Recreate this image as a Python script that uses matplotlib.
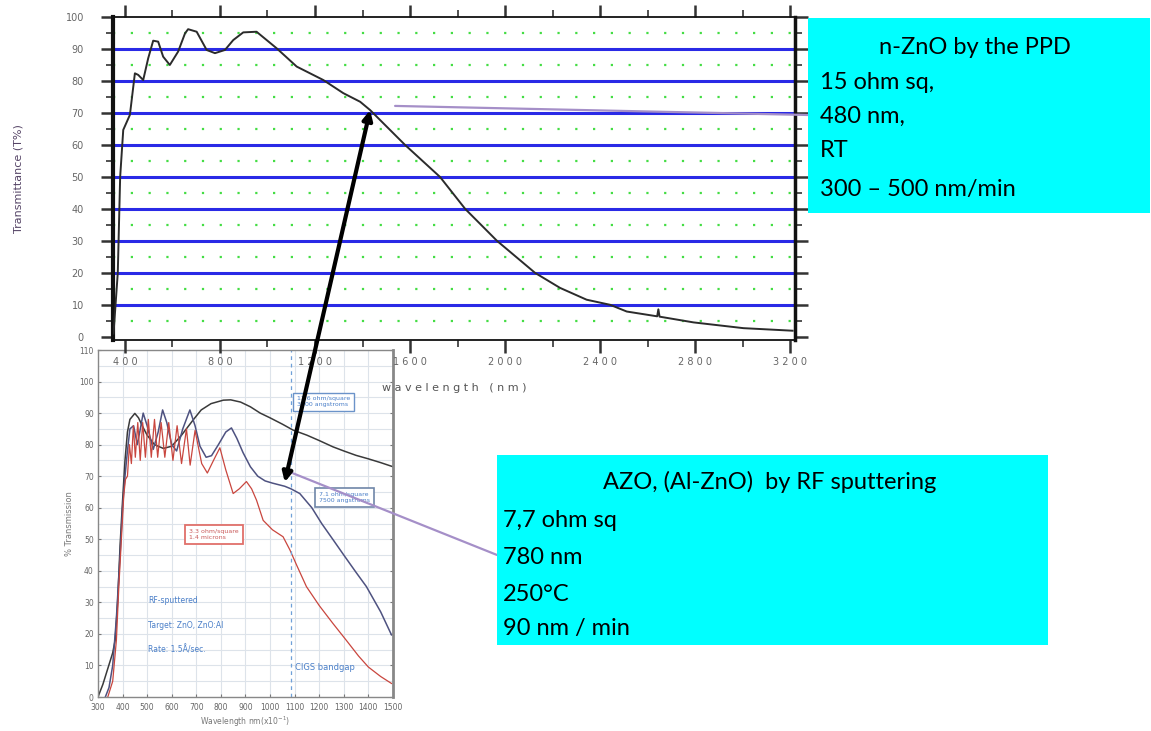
import numpy as np
import matplotlib
matplotlib.use('Agg')
import matplotlib.pyplot as plt
from matplotlib.patches import Rectangle, ConnectionPatch

# top chart: n-ZnO by PPD, transmittance vs wavelength
top_nm = [352, 370, 380, 393, 421, 442, 456, 477, 498, 519, 540, 561, 589, 624, 653, 666,
          702, 744, 779, 821, 856, 898, 954, 1039, 1123, 1235, 1319, 1390, 1432, 1579,
          1726, 1832, 1966, 2126, 2231, 2343, 2442, 2512, 2640, 2645, 2650, 2793, 3003, 3210]
top_T = [1, 20, 50, 64.7, 69.4, 82.4, 81.9, 80.3, 87.1, 92.6, 92.3, 87.6, 85, 89.2, 94.9, 96.2,
         95.4, 89.7, 88.7, 89.7, 92.8, 95.2, 95.4, 90.2, 84.5, 80.3, 76.2, 73.5, 70.9, 60,
         50, 40, 30, 20, 15.3, 11.6, 10, 7.9, 6.4, 8.6, 6.3, 4.5, 2.7, 1.9]
top_xticks = [400, 800, 1200, 1600, 2000, 2400, 2800, 3200]
top_yticks = [0, 10, 20, 30, 40, 50, 60, 70, 80, 90, 100]

# inset: RF sputtered AZO films
blk_nm = [300, 320, 340, 360, 370, 380, 390, 400, 410, 420, 430, 450, 465, 480, 500, 530, 566,
          600, 640, 687, 720, 760, 810, 840, 880, 920, 960, 1000, 1050, 1094, 1150, 1200, 1256,
          1300, 1350, 1400, 1450, 1500]
blk_T = [0, 4, 9, 14, 18, 30, 48, 62, 75, 84, 88, 89.9, 88.5, 86, 83, 80, 78.8, 79.5, 83, 87.8,
         91, 93, 94.1, 94.2, 93.5, 92, 90, 88.5, 86.5, 84.6, 83, 81.3, 79.3, 78, 76.6, 75.5, 74.3, 73]
nav_nm = [330, 345, 360, 375, 390, 400, 410, 420, 430, 445, 460, 470, 484, 500, 525, 545, 563,
          580, 600, 620, 645, 674, 695, 715, 740, 762, 790, 820, 843, 865, 890, 920, 950, 980,
          1010, 1040, 1060, 1085, 1121, 1170, 1210, 1257, 1300, 1350, 1392, 1450, 1494]
nav_T = [0, 3, 10, 25, 45, 60, 70, 78, 85, 86, 80, 84, 90, 86, 78.5, 84, 91, 87, 80, 78, 85, 91,
         86, 79.5, 76, 76.5, 80, 84, 85.3, 82, 77.5, 73, 70, 68.5, 67.8, 67.2, 66.8, 66, 64.5,
         60, 55, 49.8, 45, 39.5, 35, 27, 19.7]
red_nm = [340, 360, 375, 385, 396, 405, 412, 420, 428, 436, 444, 452, 462, 472, 482, 493, 505,
          517, 530, 543, 557, 572, 588, 605, 622, 640, 660, 675, 695, 722, 745, 770, 796, 820,
          850, 875, 904, 925, 945, 972, 1010, 1053, 1081, 1110, 1148, 1200, 1256, 1310, 1360,
          1400, 1450, 1494]
red_T = [0, 5, 18, 35, 51, 64, 69, 70, 80, 74, 86, 76, 87, 75, 87, 76, 88, 76, 88, 76, 87, 76,
         87, 75, 86, 74, 85, 73.5, 84.5, 74, 71, 75, 79, 72, 64.5, 66, 68.3, 66, 62.4, 56, 53,
         50.8, 46.6, 41.5, 35, 29, 23.3, 18, 13, 9.5, 6.5, 4.3]
ins_xticks = list(range(300, 1600, 100))
ins_yticks = list(range(0, 120, 10))

box1_lines = ['15 ohm sq,', '480 nm,', 'RT', '300 \u2013 500 nm/min']
box2_lines = ['7,7 ohm sq', '780 nm', '250\u00b0C', '90 nm / min']

fig = plt.figure(figsize=(11.51, 7.31), dpi=100)
fig.patch.set_facecolor('white')

# ---- inset (drawn underneath) ----
ai = fig.add_axes([0.0851, 0.0465, 0.2563, 0.4747], zorder=1)
ai.set_xlim(300, 1500)
ai.set_ylim(0, 110)
ai.set_xticks(ins_xticks)
ai.set_yticks(ins_yticks)
ai.set_yticks(np.arange(5, 110, 10), minor=True)
ai.grid(True, which='both', color='#dde3ea', lw=0.8)
ai.set_axisbelow(True)
ai.tick_params(labelsize=5.5, labelcolor='#666666', length=2, direction='in', right=True,
               color='#777777', pad=2)
ai.tick_params(axis='x', pad=4)
ai.tick_params(axis='y', pad=3)
ai.tick_params(which='minor', length=0)
for s in ai.spines.values():
    s.set_color('#888888')
    s.set_linewidth(1)
ai.spines['right'].set_linewidth(2)
ai.plot(blk_nm, blk_T, color='#3a3a3a', lw=1.1)
ai.plot(nav_nm, nav_T, color='#4e5280', lw=1.1)
ai.plot(red_nm, red_T, color='#c9463e', lw=0.9)
ai.axvline(1085, color='#6fa0d8', lw=0.9, ls=(0, (3, 3)))
ai.set_ylabel('% Transmission', fontsize=6, color='#777777', labelpad=4)
ai.set_xlabel('Wavelength nm(x10$^{-1}$)', fontsize=5.5, color='#777777', labelpad=2)
blue_txt = '#4a7fc8'
ai.text(505, 30.7, 'RF-sputtered', fontsize=5.5, color=blue_txt, va='center')
ai.text(505, 22.8, 'Target: ZnO, ZnO:Al', fontsize=5.5, color=blue_txt, va='center')
ai.text(505, 14.9, 'Rate: 1.5\u00c5/sec.', fontsize=5.5, color=blue_txt, va='center')
ai.text(1100, 9.2, 'CIGS bandgap', fontsize=6, color=blue_txt, va='center')
ai.text(1110, 93.6, '11.6 ohm/square\n3300 angstroms', fontsize=4.5, color=blue_txt, va='center',
        bbox=dict(boxstyle='square,pad=0.6', fc='white', ec='#6b93c9', lw=1))
ai.text(1200, 63.2, '7.1 ohm/square\n7500 angstroms', fontsize=4.5, color=blue_txt, va='center',
        bbox=dict(boxstyle='square,pad=0.6', fc='white', ec='#6f86a8', lw=1.2))
ai.text(672, 51.5, '3.3 ohm/square\n1.4 microns', fontsize=4.5, color='#c95a5a', va='center',
        bbox=dict(boxstyle='square,pad=0.7', fc='white', ec='#e0706a', lw=1.3))

# ---- top chart ----
ax = fig.add_axes([0.0982, 0.5349, 0.5925, 0.4418], zorder=2)
ax.set_facecolor('white')
ax.set_xlim(350, 3220)
ax.set_ylim(-1, 100)
for v in top_yticks[1:-1]:
    ax.axhline(v, color='#2a2ae6', lw=2.2, zorder=1)
for v in np.arange(5, 100, 10):
    ax.axhline(v, color='#44dd44', lw=1.6, ls=(0, (1, 7)), zorder=1)
ax.plot(top_nm, top_T, color='#2b2b2b', lw=1.4, zorder=3)
ax.set_xticks(top_xticks)
ax.set_xticks(np.arange(600, 3200, 400), minor=True)
ax.set_yticks(top_yticks)
ax.set_yticks(np.arange(5, 100, 10), minor=True)
ax.tick_params(which='both', direction='out', top=True, right=True, color='#333333')
ax.tick_params(which='major', length=9, width=1.8, labelsize=7, labelcolor='#666666', pad=3)
ax.tick_params(which='minor', length=5, width=1.2)
ax.tick_params(axis='y', pad=12)
ax.set_xticklabels(['4 0 0', '8 0 0', '1 2 0 0', '1 6 0 0', '2 0 0 0', '2 4 0 0', '2 8 0 0', '3 2 0 0'])
ax.set_yticklabels([str(v) for v in top_yticks])
ax.spines['left'].set_linewidth(3)
ax.spines['right'].set_linewidth(2.5)
ax.spines['top'].set_linewidth(1.3)
ax.spines['bottom'].set_linewidth(1.3)
for s in ax.spines.values():
    s.set_color('#111111')
ax.set_ylabel('Transmittance (T%)', fontsize=8, color='#554466', labelpad=30)
ax.set_xlabel('w a v e l e n g t h   ( n m )', fontsize=8, color='#555555', labelpad=12)

# arrow between the two charts
arr = ConnectionPatch(xyA=(1060, 68.1), coordsA=ai.transData, xyB=(1432, 70.9), coordsB=ax.transData,
                      arrowstyle='<|-|>', mutation_scale=14, color='black', lw=3, zorder=5)
fig.add_artist(arr)
# purple leader lines to the boxes
p1 = ConnectionPatch(xyA=(1537, 72.2), coordsA=ax.transData, xyB=(0.702, 0.8427),
                     coordsB='figure fraction', color='#a58fc8', lw=1.6, zorder=4)
fig.add_artist(p1)
p2 = ConnectionPatch(xyA=(1094, 70.9), coordsA=ai.transData, xyB=(0.4318, 0.2408),
                     coordsB='figure fraction', color='#a58fc8', lw=1.6, zorder=4)
fig.add_artist(p2)

# cyan annotation boxes
fig.add_artist(Rectangle((0.702, 0.7086), 0.2971, 0.2668, transform=fig.transFigure,
                         fc='#00ffff', ec='none', zorder=6))
fig.add_artist(Rectangle((0.4318, 0.1176), 0.4787, 0.2599, transform=fig.transFigure,
                         fc='#00ffff', ec='none', zorder=6))
fs = 17
fam = ['Lato', 'DejaVu Sans']
fig.text(0.847, 0.9357, 'n-ZnO by the PPD', fontsize=fs, family=fam, ha='center', va='center', zorder=7)
for t, y in zip(box1_lines, [0.8878, 0.8413, 0.7948, 0.7401]):
    fig.text(0.7124, y, t, fontsize=fs, family=fam, ha='left', va='center', zorder=7)
fig.text(0.669, 0.3406, 'AZO, (Al-ZnO)  by RF sputtering', fontsize=fs, family=fam,
         ha='center', va='center', zorder=7)
for t, y in zip(box2_lines, [0.2886, 0.2367, 0.1874, 0.1409]):
    fig.text(0.437, y, t, fontsize=fs, family=fam, ha='left', va='center', zorder=7)

fig.savefig('out.png', dpi=100)
